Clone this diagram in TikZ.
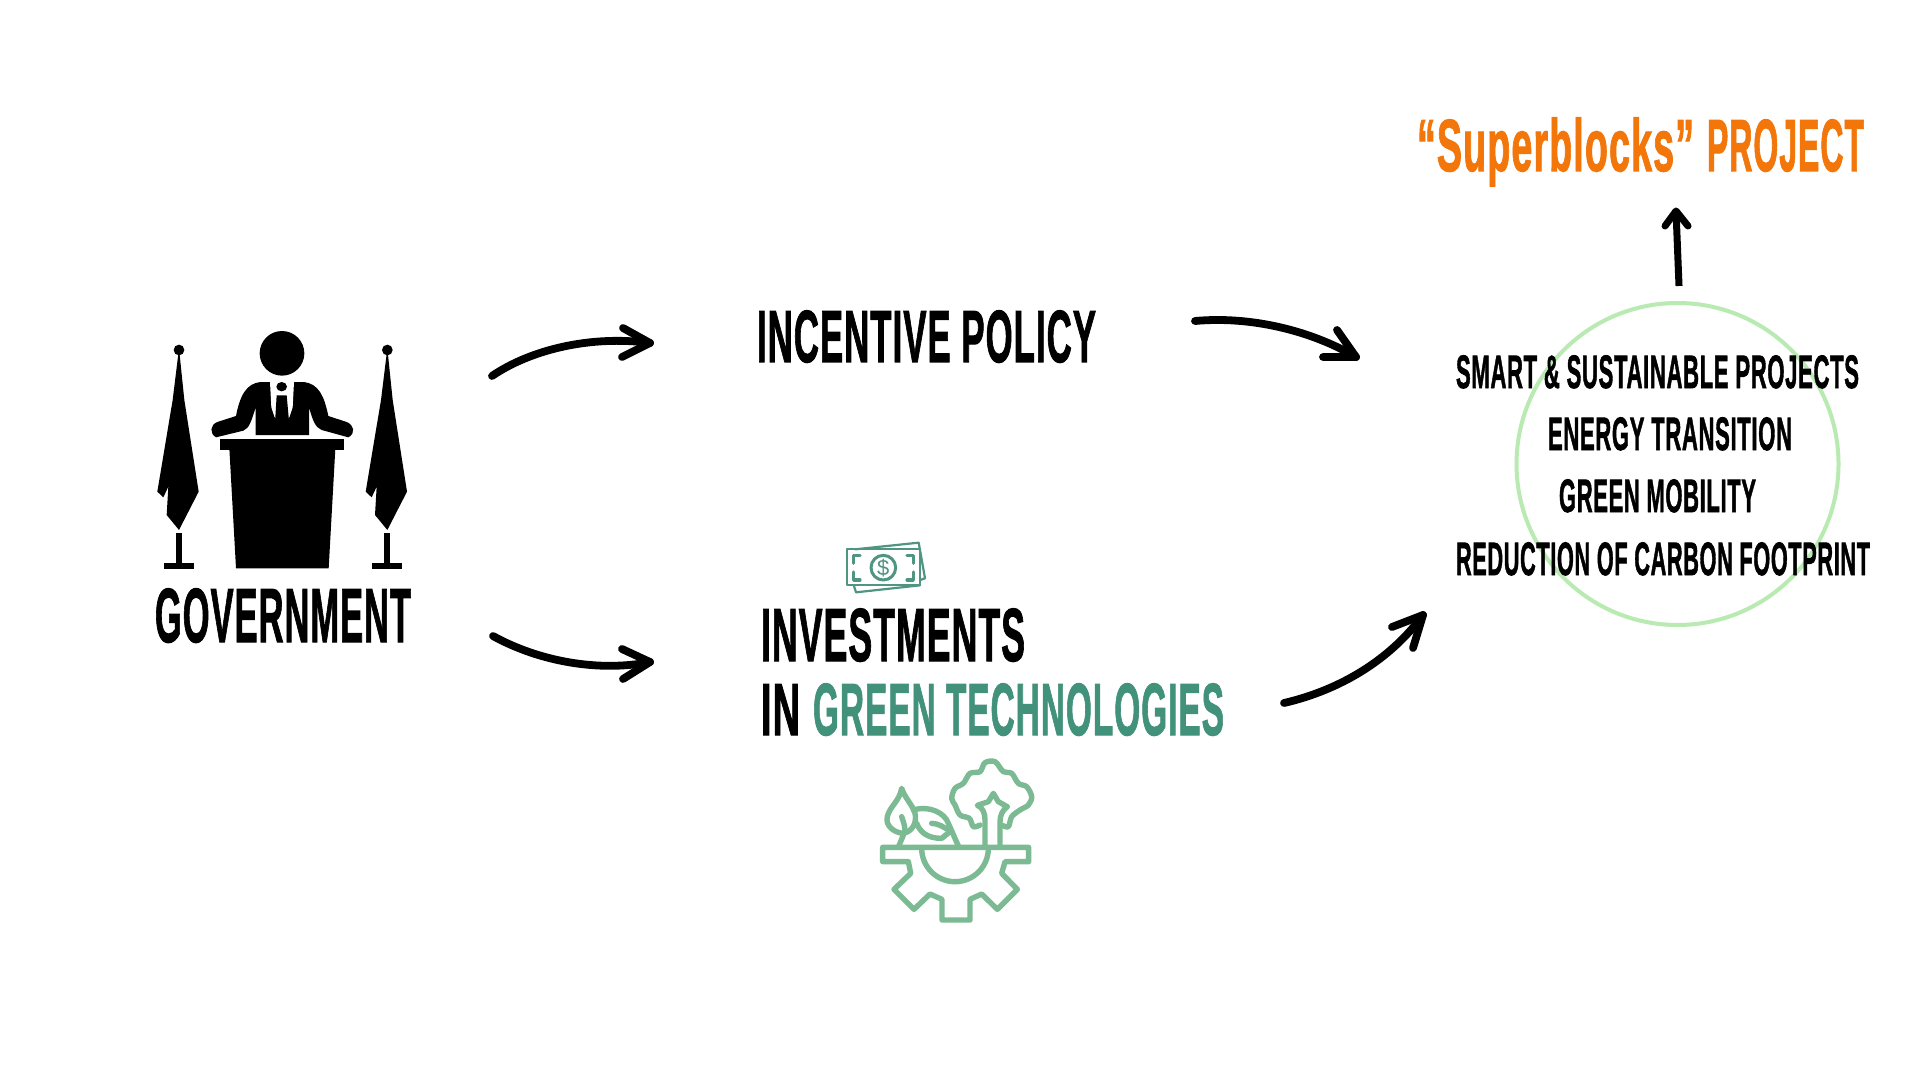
\documentclass[tikz,border=0pt]{standalone}
\usepackage{graphicx}
\usepackage{fontspec}
\newfontfamily\heavy[BoldFeatures={FakeBold=1.7},LetterSpace=3]{Liberation Sans}
\definecolor{orangeT}{HTML}{F2760A}
\definecolor{greenT}{HTML}{42917A}
\definecolor{greenI}{HTML}{7BBA92}
\definecolor{greenM}{HTML}{4F9580}
\definecolor{greenC}{HTML}{B8EAB2}
\tikzset{
  lbl/.style={inner sep=0pt,outer sep=0pt,anchor=base west,font=\heavy\bfseries},
  arrowline/.style={line width=3.9pt,line cap=round,line join=round,draw=black},
  iconline/.style={line width=2.7pt,line join=round,line cap=round,draw=greenI},
  billline/.style={line width=1.1pt,line join=round,line cap=round,draw=greenM}
}
\newcommand{\lab}[7]{%
  \node[lbl,text=#6] (#1) at (#2,#5) {\fontsize{\the\dimexpr 0.71pt*(#5-#3)\relax}{\the\dimexpr 0.8pt*(#5-#3)\relax}\selectfont\resizebox{\dimexpr 0.5pt*(#4-#2)\relax}{\height}{#7}};}
\begin{document}
\begin{tikzpicture}[x=0.5pt,y=-0.5pt]
\path[use as bounding box,fill=white] (0,0) rectangle (1920,1080);

% labels
\lab{gov}{155}{588}{411}{642}{black}{GOVERNMENT}
\lab{incentive}{757}{310}{1096}{362}{black}{INCENTIVE POLICY}
\lab{invest}{761}{608}{1025}{661}{black}{INVESTMENTS}
\lab{inw}{761}{683}{800}{735}{black}{IN}
\lab{greentech}{813}{683}{1224}{735}{greenT}{GREEN TECHNOLOGIES}
\lab{super}{1417}{119}{1694}{171}{orangeT}{“Superblocks”}
\lab{project}{1707}{119}{1864}{171}{orangeT}{PROJECT}

% circle
\node[circle,draw=greenC,line width=2pt,minimum size=161pt,inner sep=0pt] (ring) at (1677.5,464) {};

\lab{smart}{1456}{355}{1859}{388}{black}{SMART \& SUSTAINABLE PROJECTS}
\lab{energy}{1548}{417}{1792}{450}{black}{ENERGY TRANSITION}
\lab{mobility}{1559}{479}{1756}{512}{black}{GREEN MOBILITY}
\lab{carbon}{1456}{542}{1870}{575}{black}{REDUCTION OF CARBON FOOTPRINT}

% government icon (coordinates in 3x crop units)
\begin{scope}[shift={(130,320)},x=0.16667pt,y=-0.16667pt]
  \fill (456,100) circle[radius=67];
  % flags
  \foreach \dx in {0,625}{
    \begin{scope}[xshift=\dx*0.16667pt]
      \fill (147,90) circle[radius=16];
      \fill (147,85) -- (163,240) -- (206,515) -- (147,630) -- (110,585) -- (115,500) -- (100,532) -- (82,515) -- (128,240) -- cycle;
      \fill (138,638) rectangle (156,730);
      \fill (102,728) rectangle (192,746);
    \end{scope}
  }
  % podium
  \fill (270,357) rectangle (643,391);
  \fill (298,385) -- (616,385) -- (596,745) -- (318,745) -- cycle;
  % person
  \fill (420,186) -- (392,186) .. controls (350,190) and (330,225) .. (318,288)
    -- (262,306) .. controls (240,315) and (238,340) .. (258,352)
    -- (340,332) .. controls (358,326) and (365,300) .. (377,262)
    -- (377,345) -- (537,345) -- (537,262)
    .. controls (548,300) and (555,322) .. (575,330)
    -- (655,352) .. controls (678,340) and (672,315) .. (650,306)
    -- (595,288) .. controls (582,225) and (565,192) .. (522,186) -- cycle;
  \fill[white] (420,186) -- (492,186) -- (488,262) -- (478,292) -- (455,300) -- (434,292) -- (424,262) -- cycle;
  \fill (455,200) ellipse[x radius=16,y radius=14];
  \fill (440,226) -- (470,226) -- (476,292) -- (456,330) -- (436,292) -- cycle;
\end{scope}

% bill icon
\begin{scope}[shift={(840,530)},x=0.16667pt,y=-0.16667pt]
  \draw[billline] (22,58) rectangle (240,166);
  \draw[billline] (45,58) -- (236,38) -- (255,145) -- (240,150);
  \draw[billline] (42,168) -- (48,187) -- (240,166);
  \draw[billline,line width=1.5pt] (130,113) circle[radius=37];
  \node[inner sep=0pt,text=greenM,font=\fontspec{Liberation Sans}\fontsize{11}{11}\selectfont] (dollar) at (130,113) {\$};
  \draw[billline,line width=1.6pt] (60,76) -- (41,76) -- (41,100);
  \draw[billline,line width=1.6pt] (201,76) -- (220,76) -- (220,100);
  \draw[billline,line width=1.6pt] (41,126) -- (41,150) -- (60,150);
  \draw[billline,line width=1.6pt] (220,126) -- (220,150) -- (201,150);
\end{scope}

% green technology icon
\begin{scope}[shift={(840,530)},x=0.16667pt,y=-0.16667pt]
  \draw[iconline] (128,952) -- (566,952) -- (566,995) -- (495,995) -- (485,1030) -- (532,1078) -- (472,1138) -- (425,1092) -- (390,1108) -- (390,1170) -- (306,1170) -- (306,1108) -- (270,1092) -- (222,1138) -- (162,1078) -- (212,1030) -- (205,995) -- (128,995) -- cycle;
  \draw[iconline] (245,955) arc[start angle=180,end angle=0,radius=100];
  % tree
  \draw[iconline] (435,948) -- (435,870) .. controls (435,850) and (428,832) .. (412,826) -- (445,815) -- (460,790) -- (475,815) -- (502,830) .. controls (488,840) and (480,855) .. (480,875) -- (480,948);
  \draw[iconline] plot[smooth,tension=0.55] coordinates {(420,885) (400,890) (388,865) (360,855) (345,825) (335,805) (345,775) (370,760) (390,730) (420,725) (435,698) (465,695) (490,725) (515,730) (535,760) (560,770) (575,800) (565,825) (540,840) (515,860) (505,890) (485,885)};
  % leaves
  \draw[iconline] (175,952) -- (190,915);
  \draw[iconline] (190,910) .. controls (160,908) and (135,885) .. (142,860) .. controls (148,830) and (178,815) .. (185,775) .. controls (195,805) and (218,825) .. (225,850) .. controls (232,880) and (215,905) .. (190,910);
  \draw[iconline] (185,860) .. controls (190,875) and (195,888) .. (195,903);
  \draw[iconline] (220,840) .. controls (270,825) and (315,850) .. (325,880) -- (355,948);
  \draw[iconline] (230,880) .. controls (240,905) and (260,925) .. (305,925) -- (330,905);
  \draw[iconline] (275,880) .. controls (295,880) and (312,892) .. (325,900);
\end{scope}

% arrows
\coordinate (a1s) at (492,376); \coordinate (a1e) at (650,343);
\coordinate (a1u) at (623,328); \coordinate (a1d) at (622,357);
\draw[arrowline] (a1s) .. controls (530,350) and (590,335) .. (a1e);
\draw[arrowline] (a1u) -- (a1e) -- (a1d);

\coordinate (a2s) at (493,636); \coordinate (a2e) at (650,662);
\coordinate (a2u) at (622,649); \coordinate (a2d) at (623,679);
\draw[arrowline] (a2s) .. controls (540,662) and (600,672) .. (a2e);
\draw[arrowline] (a2u) -- (a2e) -- (a2d);

\coordinate (a3s) at (1195,321); \coordinate (a3e) at (1356,357);
\coordinate (a3u) at (1337,330); \coordinate (a3d) at (1323,357);
\draw[arrowline] (a3s) .. controls (1250,316) and (1310,330) .. (a3e);
\draw[arrowline] (a3u) -- (a3e) -- (a3d);

\coordinate (a4s) at (1284,703); \coordinate (a4e) at (1423,615);
\coordinate (a4u) at (1392,627); \coordinate (a4d) at (1413,648);
\draw[arrowline] (a4s) .. controls (1340,690) and (1390,660) .. (a4e);
\draw[arrowline] (a4u) -- (a4e) -- (a4d);

\coordinate (a5s) at (1679,286); \coordinate (a5e) at (1676,211);
\coordinate (a5u) at (1665,226); \coordinate (a5d) at (1688,226);
\draw[arrowline,line width=3.5pt,line cap=butt] (a5s) -- (a5e);
\draw[arrowline,line width=3.5pt] (a5u) -- (a5e) -- (a5d);
\end{tikzpicture}
\end{document}
